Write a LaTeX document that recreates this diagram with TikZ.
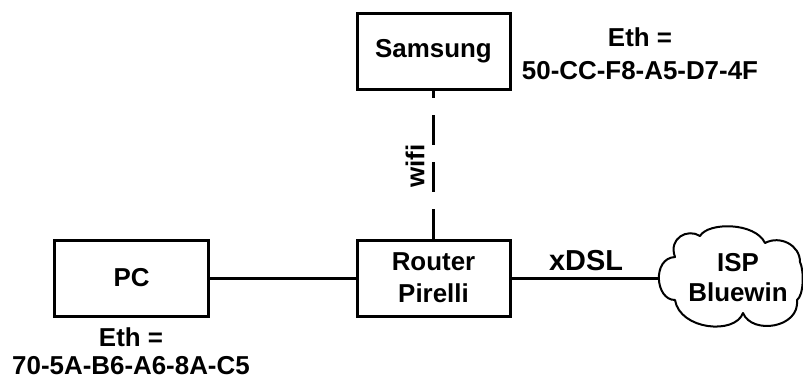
\documentclass[tikz,border=0pt]{standalone}
\usepackage{fontspec}
\setmainfont{Liberation Sans}
\begin{document}
\begin{tikzpicture}[x=1bp,y=-1bp,
  txt/.style={font=\fontsize{26}{32}\selectfont\bfseries, align=center, inner sep=0pt},
  box/.style={txt, draw, line width=3bp, minimum width=153bp, minimum height=76bp},
  conn/.style={line width=3bp},
  cloudline/.style={line width=2bp, line join=round}]
\useasboundingbox (0,0) rectangle (803,378);
\node[box] (sam) at (433.5,51) {Samsung};
\node[box] (rtr) at (433.5,278) {Router\\Pirelli};
\node[box] (pc) at (131.5,278) {PC};
% cloud outline
\draw[cloudline] (675,300)
  .. controls (655,300) and (652,258) .. (675,257)
  .. controls (668,238) and (688,228) .. (700,236)
  .. controls (708,222) and (755,222) .. (765,243)
  .. controls (780,235) and (800,245) .. (800,262)
  .. controls (804,270) and (804,295) .. (797,300)
  .. controls (800,328) and (752,335) .. (743,313)
  .. controls (735,335) and (680,330) .. (675,300) -- cycle;
\coordinate (clw) at (659,278);
\node[txt] (cl) at (738,278) {ISP\\[-2bp]Bluewin};
\node[txt] (ethS) at (640,54) {Eth =\\[1bp]50-CC-F8-A5-D7-4F};
\node[txt] (ethP) at (131,351) {Eth =\\[-4bp]70-5A-B6-A6-8A-C5};
\node[txt, rotate=90] (wifi) at (415,166) {wifi};
\node[txt, font=\fontsize{29}{32}\selectfont\bfseries] (xdsl) at (586,261) {xDSL};
\draw[conn] (pc) -- (rtr);
\draw[conn] (rtr) -- (clw);
\draw[conn, dash pattern=on 30bp off 17bp] (rtr.north) -- (sam.south);
\end{tikzpicture}
\end{document}
